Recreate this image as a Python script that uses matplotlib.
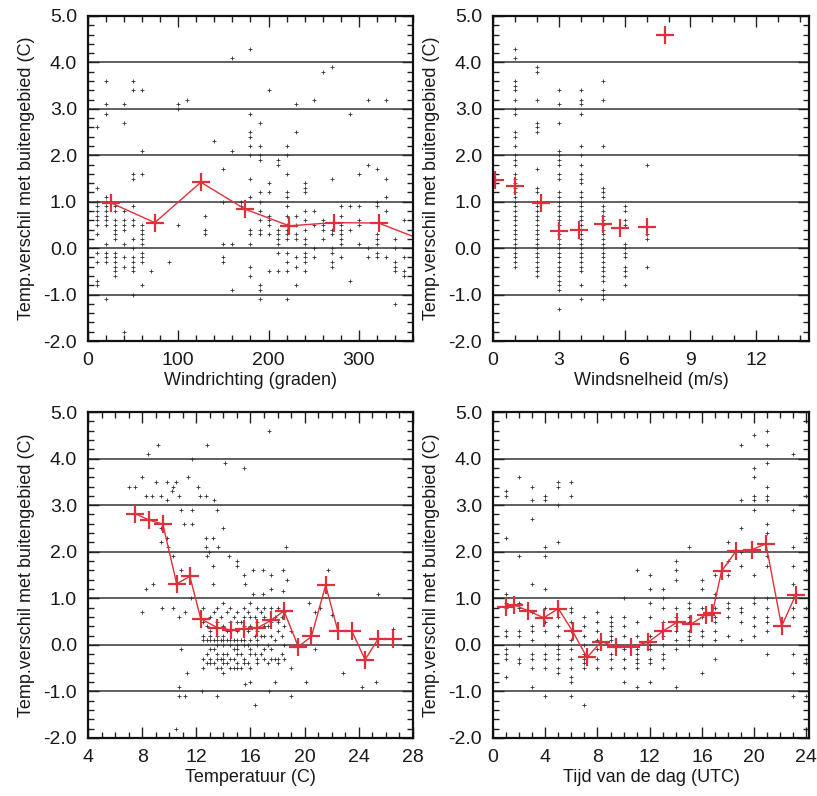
import matplotlib.pyplot as plt
from matplotlib.ticker import MultipleLocator, FormatStrFormatter

# --- scatter data: (x, [y values]) columns ---
dir_points = [
    (10, [2.6, 1.3, 1.0, 0.9, 0.8, 0.7, 0.6, 0.5, 0.3, -0.1, -0.3, -0.7, -0.8]),
    (20, [3.6, 3.1, 2.9, 1.1, 1.0, 0.9, 0.8, 0.7, 0.6, 0.5, 0.1, -0.1, -0.2, -0.3, -1.1]),
    (30, [0.9, 0.8, 0.6, 0.5, 0.4, 0.3, 0.2, -0.1, -0.2, -0.3, -0.4, -0.5, -0.6]),
    (40, [3.1, 2.7, 0.8, 0.6, 0.5, 0.4, 0.1, -0.2, -0.4, -1.8]),
    (50, [3.6, 3.4, 1.6, 1.5, 0.9, 0.6, 0.5, 0.2, 0.0, -0.2, -0.3, -0.4, -0.5, -1.0]),
    (60, [3.4, 2.1, 1.6, 0.5, 0.4, 0.3, 0.2, 0.1, -0.1, -0.2, -0.3, -0.8]),
    (70, [-0.5]),
    (90, [-0.3]),
    (100, [3.1, 3.0, 0.5]),
    (110, [3.2]),
    (130, [0.7, 0.4, 0.3]),
    (140, [2.3]),
    (150, [1.7, 1.0, 0.1, -0.2, -0.3]),
    (160, [4.1, 2.1, 0.1, -0.9]),
    (170, [1.0, 0.9]),
    (180, [4.3, 2.9, 2.5, 2.4, 2.2, 2.0, 1.5, 1.1, 0.4, 0.3, 0.1, -0.4, -0.6]),
    (190, [2.7, 2.2, 2.0, 1.9, 1.2, 1.0, 0.8, 0.6, 0.4, 0.3, -0.8, -0.9, -1.1]),
    (200, [3.4, 1.4, 1.2, 0.7, 0.6, 0.5, 0.3, -0.5]),
    (210, [1.9, 1.8, 0.4, 0.3, 0.2, 0.1, -0.1, -0.5]),
    (220, [2.2, 2.0, 1.6, 1.2, 1.1, 0.9, 0.7, 0.5, 0.4, 0.3, 0.2, -0.1, -0.3, -0.5, -1.1]),
    (230, [3.1, 2.5, 0.7, 0.5, 0.3, 0.2, -0.2, -0.4, -0.8]),
    (240, [1.4, 1.3, 1.2, 0.8, 0.6, 0.4, 0.2, 0.1, -0.1, -0.2, -0.3, -0.5]),
    (250, [3.2, 0.8, 0.5, 0.0, -0.2]),
    (260, [3.8, 0.6, 0.5, 0.4, 0.2]),
    (270, [3.9, 1.5, 0.4, 0.3, 0.0, -0.1, -0.3, -0.4]),
    (280, [0.9, 0.7, 0.5, 0.4, 0.3, 0.2, 0.1, -0.2]),
    (290, [2.9, 0.9, 0.4, -0.7]),
    (300, [1.6, 0.9, 0.6, 0.5, 0.1]),
    (310, [3.2, 1.8, 0.0, -0.2]),
    (320, [1.7, 1.0, 0.9, 0.3, 0.2, 0.1, -0.1, -0.2]),
    (330, [3.2, 1.5, 1.1, 0.8, -0.2]),
    (340, [0.2, 0.0, -0.3, -0.4, -0.5, -1.2]),
    (350, [0.6, -0.2, -0.5, -0.6]),
]

speed_points = [
    (0, [1.6, 1.5, 1.3]),
    (1, [4.3, 4.1, 3.6, 3.5, 3.4, 3.2, 3.0, 2.9, 2.5, 2.4, 2.2, 2.0, 1.9, 1.8, 1.6, 1.5,
         1.4, 1.3, 1.2, 1.1, 1.0, 0.9, 0.8, 0.7, 0.6, 0.5, 0.4, 0.3, 0.2, 0.1, 0.0,
         -0.1, -0.2, -0.3, -0.4]),
    (2, [3.9, 3.8, 3.2, 2.7, 2.6, 2.5, 1.7, 1.3, 1.2, 1.0, 0.9, 0.8, 0.7, 0.6, 0.5, 0.4,
         0.3, 0.2, 0.1, 0.0, -0.1, -0.2, -0.3, -0.4, -0.5, -0.6]),
    (3, [3.4, 3.1, 2.7, 2.1, 2.0, 1.9, 1.8, 1.6, 1.5, 1.2, 1.1, 1.0, 0.9, 0.8, 0.7, 0.6,
         0.5, 0.4, 0.3, 0.2, 0.1, 0.0, -0.1, -0.2, -0.3, -0.4, -0.5, -0.6, -0.7, -0.8,
         -0.9, -1.3]),
    (4, [3.4, 3.2, 3.1, 2.9, 2.2, 2.0, 1.8, 1.6, 1.5, 1.4, 1.2, 1.1, 1.0, 0.9, 0.8, 0.7,
         0.6, 0.5, 0.4, 0.3, 0.2, 0.1, 0.0, -0.1, -0.2, -0.3, -0.4, -0.5, -0.8, -1.1]),
    (5, [3.6, 3.2, 2.2, 1.3, 1.2, 1.1, 0.9, 0.8, 0.7, 0.6, 0.5, 0.4, 0.3, 0.2, 0.1, 0.0,
         -0.1, -0.2, -0.3, -0.4, -0.5, -0.6, -0.7, -0.9, -1.0, -1.1]),
    (6, [0.9, 0.8, 0.6, 0.5, 0.1, 0.0, -0.1, -0.2, -0.4, -0.5, -0.6, -0.8]),
    (7, [1.8, 0.3, 0.2, -0.4]),
]

# scattered temperature points, (x, y) pairs
temp_sparse = [
    (7.0, 3.4), (7.5, 3.4), (8.4, 4.1), (9.2, 4.3), (8.0, 3.6), (8.3, 3.2), (8.7, 3.2),
    (9.0, 3.5), (9.4, 3.2), (9.8, 3.1), (9.85, 3.5), (10.2, 3.3), (10.3, 3.4), (10.5, 3.5),
    (10.75, 3.2), (10.9, 2.9), (11.4, 3.6), (11.7, 2.9), (11.7, 4.0), (12.1, 3.4),
    (12.3, 3.2), (12.7, 3.2), (12.8, 4.3), (13.3, 3.1), (13.5, 2.9), (14.1, 3.9),
    (14.0, 2.5), (15.5, 3.8), (17.4, 4.6),
    (9.4, 2.5), (11.1, 2.6), (11.7, 2.6), (9.8, 2.3), (9.4, 2.2), (12.7, 2.3), (13.2, 2.3),
    (12.7, 2.1), (12.9, 2.0), (13.6, 2.1), (18.6, 2.1), (12.8, 1.9), (14.4, 1.9),
    (15.0, 1.8), (15.0, 1.7), (13.2, 1.7), (10.3, 1.9), (9.9, 2.1),
    (8.8, 1.3), (8.3, 1.2), (10.9, 1.6), (15.5, 1.5), (16.2, 1.6), (16.9, 1.6), (17.5, 1.5),
    (18.4, 1.6), (18.7, 1.4), (15.6, 1.3), (16.2, 1.1), (16.9, 1.1), (17.5, 1.2),
    (18.4, 1.15), (11.6, 1.0), (13.2, 1.3), (25.4, 1.1), (21.7, 1.6), (20.3, 0.9),
    (8.0, 0.7), (9.5, 0.8), (10.3, 0.8), (10.75, 0.6), (11.2, 0.7), (20.8, 0.7),
    (21.1, 0.8), (22.0, 0.65), (26.5, 0.35),
    (10.9, -0.1), (11.3, -0.6), (10.75, -0.9), (10.75, -1.1), (11.2, -1.1), (12.4, -1.0),
    (13.5, -1.1), (16.3, -1.3), (19.0, -1.1), (17.4, -1.0), (15.6, -0.85), (17.8, -0.8),
    (20.1, -0.8), (22.8, -0.6), (25.3, -0.8), (24.2, -0.9), (10.5, -1.8), (20.8, -0.1),
]

# dense temperature cluster, (x, [y values]) columns
temp_cluster = [
    (12.5, [0.8, 0.5, 0.2, 0.1, -0.3, -0.5]),
    (12.8, [0.4, 0.1, -0.2, -0.4]),
    (13.0, [0.6, 0.3, 0.2, 0.1, -0.1, -0.3, -0.4]),
    (13.3, [0.7, 0.1, -0.1, -0.4]),
    (13.5, [0.8, 0.5, 0.2, 0.1, 0.0, -0.2, -0.3, -0.5]),
    (13.8, [0.6, 0.1, -0.3, -0.5]),
    (14.0, [0.9, 0.4, 0.2, 0.1, 0.0, -0.2, -0.3, -0.4, -0.6]),
    (14.3, [0.7, 0.3, 0.1, -0.2, -0.4]),
    (14.5, [0.8, 0.5, 0.3, 0.1, 0.0, -0.3, -0.5]),
    (14.8, [0.6, 0.1, -0.1, -0.3, -0.5]),
    (15.0, [0.7, 0.5, 0.3, 0.1, 0.0, -0.1, -0.2, -0.4, -0.5]),
    (15.3, [0.5, 0.1, -0.2, -0.5]),
    (15.5, [0.8, 0.6, 0.4, 0.1, 0.0, -0.3, -0.4]),
    (15.8, [0.7, 0.3, 0.0, -0.4]),
    (16.0, [0.9, 0.6, 0.4, 0.1, -0.1, -0.2, -0.5, -0.8]),
    (16.3, [0.6, 0.2, -0.2]),
    (16.5, [0.8, 0.5, 0.3, 0.1, 0.0, -0.3, -0.4]),
    (16.8, [0.7, 0.2, -0.2]),
    (17.0, [0.8, 0.6, 0.4, 0.2, -0.1, -0.3]),
    (17.3, [0.4, 0.0, -0.4]),
    (17.5, [0.8, 0.5, 0.2, -0.1, -0.3]),
    (17.8, [0.6, 0.1, -0.3]),
    (18.0, [0.8, 0.5, 0.3, -0.3, -0.4]),
    (18.3, [0.6, 0.2, -0.2]),
    (18.5, [0.7, 0.4, 0.0, -0.3]),
    (19.0, [0.3, -0.5]),
]

hour_points = [
    (1, [3.3, 3.2, 2.3, 1.1, 0.9, 0.8, 0.3, 0.2, -0.1, -0.2, -0.3, -0.7]),
    (2, [3.6, 1.9, 0.9, 0.8, 0.3, 0.2, 0.0, -0.3, -0.4]),
    (3, [3.4, 3.1, 2.7, 1.3, 0.7, 0.4, 0.3, 0.1, -0.2, -0.3, -0.5, -0.9]),
    (4, [3.2, 3.1, 2.1, 1.9, 1.2, 0.8, 0.5, 0.3, 0.0, -0.2, -0.3, -0.5, -1.1]),
    (5, [3.5, 3.4, 3.0, 2.2, 0.8, 0.6, 0.4, 0.2, 0.0, -0.1, -0.2, -0.3, -0.5, -0.6]),
    (6, [3.5, 3.2, 0.8, 0.7, 0.5, 0.3, 0.1, -0.1, -0.3, -0.5, -0.7, -0.8, -1.1]),
    (7, [0.6, 0.4, 0.2, 0.0, -0.2, -0.3, -0.4, -0.5, -1.3]),
    (8, [0.7, 0.5, 0.3, 0.1, -0.1, -0.3, -0.5]),
    (9, [0.6, 0.5, 0.4, 0.3, 0.2, 0.1, -0.2, -0.3, -0.5]),
    (10, [1.0, 0.6, 0.4, 0.2, -0.1, -0.3, -0.5, -0.8]),
    (11, [1.6, 0.5, 0.2, -0.1, -0.2, -0.3, -0.4, -0.5, -0.9]),
    (12, [1.5, 1.2, 0.9, 0.6, 0.2, 0.0, -0.1, -0.3, -0.4, -0.8]),
    (13, [1.2, 1.0, 0.8, 0.5, 0.3, 0.2, 0.0, -0.2, -0.3, -0.5]),
    (14, [1.8, 1.6, 1.4, 0.8, 0.6, 0.4, 0.3, 0.1, -0.1, -0.9]),
    (15, [2.1, 0.9, 0.8, 0.6, 0.5, 0.3, 0.2, 0.1, 0.0]),
    (16, [1.4, 1.2, 0.8, 0.6, 0.3, 0.2, 0.0, -0.6]),
    (17, [1.5, 1.1, 1.0, 0.8, 0.6, 0.5, 0.3, 0.1, -0.3]),
    (18, [2.2, 1.8, 1.5, 0.9, 0.8, 0.6, 0.2]),
    (19, [4.3, 3.1, 2.5, 2.0, 1.7, 0.8, 0.7, 0.5, 0.1]),
    (20, [4.5, 3.8, 3.6, 3.2, 3.1, 2.9, 1.5, 1.0, 0.9, 0.6, 0.4, 0.2]),
    (21, [4.6, 4.3, 3.9, 3.4, 3.2, 3.1, 2.6, 2.4, 1.9, 1.7, 1.0, 0.8, 0.6, 0.5, 0.3, -0.2]),
    (23, [4.1, 2.9, 2.1, 1.7, 1.3, 1.0, 0.8, 0.6, -0.2, -0.6, -1.1]),
    (24, [3.2, 2.3, 1.6, 0.8, 0.3, -0.3, -0.4, -1.1]),
]

# --- bin means (red crosses) ---
dir_mean_x = [26, 74, 125, 174, 223, 272, 322, 371]
dir_mean_y = [0.97, 0.55, 1.42, 0.84, 0.48, 0.55, 0.54, 0.17]

speed_mean_x = [0.1, 1.0, 2.2, 3.0, 3.9, 5.0, 5.8, 7.0, 7.85]
speed_mean_y = [1.47, 1.33, 0.98, 0.38, 0.39, 0.52, 0.43, 0.45, 4.59]

temp_mean_x = [7.47, 8.5, 9.53, 10.55, 11.52, 12.33, 13.54, 14.56, 15.55, 16.5, 17.54,
               18.47, 19.53, 20.5, 21.55, 22.45, 23.5, 24.46, 25.43, 26.5]
temp_mean_y = [2.82, 2.68, 2.59, 1.31, 1.47, 0.56, 0.37, 0.32, 0.35, 0.36, 0.53,
               0.73, -0.04, 0.18, 1.28, 0.30, 0.29, -0.32, 0.13, 0.13]

hour_mean_x = [1.0, 1.6, 2.7, 3.9, 5.0, 6.1, 7.2, 8.3, 9.4, 10.6, 11.9, 13.0, 14.1,
               15.2, 16.3, 16.8, 17.5, 18.6, 19.8, 20.9, 22.1, 23.2]
hour_mean_y = [0.82, 0.86, 0.73, 0.58, 0.78, 0.29, -0.27, 0.07, -0.04, -0.04, 0.06,
               0.29, 0.49, 0.45, 0.65, 0.68, 1.58, 2.01, 2.04, 2.17, 0.40, 1.08]

ylabel = "Temp.verschil met buitengebied (C)"
red = "#e2303a"
ink = "#1a1a1a"

plt.rcParams["font.family"] = ["Liberation Sans", "DejaVu Sans"]
plt.rcParams["font.size"] = 13

fig = plt.figure(figsize=(8.17, 7.96), dpi=100)
ax1 = fig.add_axes([0.1077, 0.5716, 0.3978, 0.4083])
ax2 = fig.add_axes([0.6034, 0.5716, 0.3868, 0.4083])
ax3 = fig.add_axes([0.1077, 0.0729, 0.3978, 0.4095])
ax4 = fig.add_axes([0.6034, 0.0729, 0.3868, 0.4095])


def columns(points):
    xs, ys = [], []
    for x, yl in points:
        xs += [x] * len(yl)
        ys += yl
    return xs, ys


def style(ax, xlim, xmajor, xminor, xlabel):
    ax.set_xlim(*xlim)
    ax.set_ylim(-2, 5)
    ax.xaxis.set_major_locator(MultipleLocator(xmajor))
    ax.xaxis.set_minor_locator(MultipleLocator(xminor))
    ax.yaxis.set_major_locator(MultipleLocator(1))
    ax.yaxis.set_minor_locator(MultipleLocator(0.2))
    ax.yaxis.set_major_formatter(FormatStrFormatter("%.1f"))
    ax.tick_params(which="both", direction="in", top=True, right=True,
                   width=1.0, color="#222222")
    ax.tick_params(which="major", length=8, pad=8, labelsize=14, labelcolor=ink)
    ax.tick_params(which="minor", length=4)
    ax.grid(axis="y", which="major", color="#444444", linewidth=1.2)
    for s in ax.spines.values():
        s.set_linewidth(1.6)
        s.set_color("#111111")
    ax.set_xlabel(xlabel, labelpad=2, color=ink)
    ax.set_ylabel(ylabel, labelpad=6, color=ink)
    ax.set_axisbelow(True)


def scatter(ax, xs, ys):
    ax.plot(xs, ys, linestyle="none", marker="+", markersize=3,
            markeredgewidth=0.6, color="#333333")


def means(ax, xs, ys, line=True):
    ax.plot(xs, ys, linestyle="-" if line else "none", color=red, linewidth=1.0,
            marker="+", markersize=13, markeredgewidth=1.6)


xs, ys = columns(dir_points)
scatter(ax1, xs, ys)
means(ax1, dir_mean_x, dir_mean_y)
style(ax1, (0, 360), 100, 20, "Windrichting (graden)")

xs, ys = columns(speed_points)
scatter(ax2, xs, ys)
means(ax2, speed_mean_x, speed_mean_y, line=False)
style(ax2, (0, 14.4), 3, 1, "Windsnelheid (m/s)")

xs, ys = columns(temp_cluster)
xs += [p[0] for p in temp_sparse]
ys += [p[1] for p in temp_sparse]
scatter(ax3, xs, ys)
means(ax3, temp_mean_x, temp_mean_y)
style(ax3, (4, 28), 4, 1, "Temperatuur (C)")

xs, ys = columns(hour_points)
scatter(ax4, xs, ys)
means(ax4, hour_mean_x, hour_mean_y)
style(ax4, (0, 24.2), 4, 1, "Tijd van de dag (UTC)")

fig.savefig("out.png", dpi=100)
